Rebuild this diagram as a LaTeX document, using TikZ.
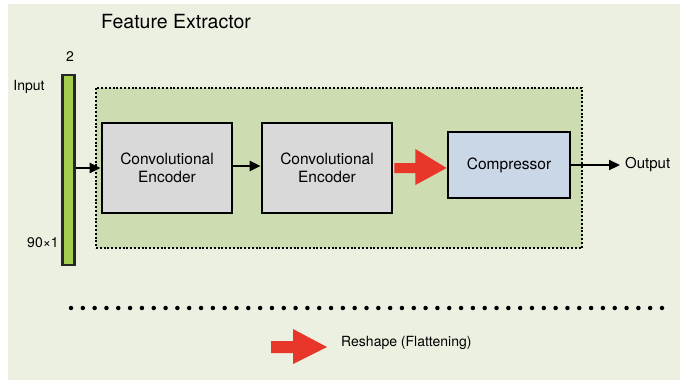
\documentclass[tikz,border=0pt]{standalone}
\usepackage{fontspec}
\setmainfont{TeX Gyre Heros}
\usetikzlibrary{arrows.meta,calc}
\definecolor{paper}{HTML}{ECF0E1}
\definecolor{regiongreen}{HTML}{CEDCB2}
\definecolor{bargreen}{HTML}{A5CE4E}
\definecolor{encgray}{HTML}{D9D9D9}
\definecolor{compblue}{HTML}{C9D7E6}
\definecolor{flatred}{HTML}{E8372A}
\tikzset{
  block/.style={draw=black, line width=2.8pt, inner sep=0pt, align=center,
    font=\fontsize{15.5}{18}\selectfont},
  encoder/.style={block, fill=encgray, minimum width=130pt, minimum height=90pt},
  label/.style={inner sep=0pt, font=\fontsize{14}{16}\selectfont},
  link/.style={line width=2.2pt, -{Triangle[length=11pt,width=10pt]}},
  reshape/.style={fill=flatred, draw=none},
}
\begin{document}
\begin{tikzpicture}[x=1pt, y=-1pt]
  % page and panel
  \useasboundingbox (0,0) rectangle (694,381);
  \fill[white] (0,0) rectangle (694,381);
  \fill[paper] (8,4) rectangle (680,380);

  % title
  \node[inner sep=0pt, font=\fontsize{19.5}{22}\selectfont] (title) at (176,22) {Feature Extractor};

  % dotted feature-extractor region
  \node[draw=black, fill=regiongreen, line width=2.6pt, dash pattern=on 2pt off 1.8pt,
        minimum width=486pt, minimum height=160pt, inner sep=0pt] (region) at (339,168) {};

  % input vector
  \node[draw=black!85, fill=bargreen, line width=2.2pt, minimum width=12pt,
        minimum height=190pt, inner sep=0pt] (bar) at (68.5,170) {};
  \node[label] (dimtop) at (70,57) {2};
  \node[label] (inlabel) at (29,87) {Input};
  \node[label] (dimbot) at (43,243) {90×1};

  % processing blocks
  \node[encoder] (enc1) at (167,168) {Convolutional\\Encoder};
  \node[encoder] (enc2) at (327,168) {Convolutional\\Encoder};
  \node[block, fill=compblue, minimum width=122pt, minimum height=66pt] (comp) at (509,165) {Compressor};
  \node[label, font=\fontsize{15}{17}\selectfont, anchor=west, inner xsep=5pt] (out) at (620,165) {Output};

  % connectors
  \draw[link] (bar.east |- enc1.west) -- (enc1.west);
  \draw[link] (enc1.east |- 0,166) -- (enc2.west |- 0,166);
  \draw[link] (comp.east) -- (out.west);

  % flattening arrow between encoder and compressor
  \fill[reshape] ($(enc2.east)+(1,-5)$) -- ($(enc2.east)+(22,-5)$) -- ($(enc2.east)+(22,-19)$)
    -- (comp.west |- enc2.east) -- ($(enc2.east)+(22,17)$) -- ($(enc2.east)+(22,5)$)
    -- ($(enc2.east)+(1,5)$) -- cycle;

  % separator
  \coordinate (sepL) at (71,308);
  \coordinate (sepR) at (662,308);
  \draw[line width=4.5pt, line cap=round, dash pattern=on 0pt off 11.82pt] (sepL) -- (sepR);

  % legend
  \coordinate (lg) at (271,347);
  \fill[reshape] ($(lg)+(0,-6)$) -- ($(lg)+(22,-6)$) -- ($(lg)+(22,-18)$) -- ($(lg)+(56,0)$)
    -- ($(lg)+(22,17)$) -- ($(lg)+(22,6)$) -- ($(lg)+(0,6)$) -- cycle;
  \node[label, anchor=west] (legtext) at (341,343) {Reshape (Flattening)};
\end{tikzpicture}
\end{document}
